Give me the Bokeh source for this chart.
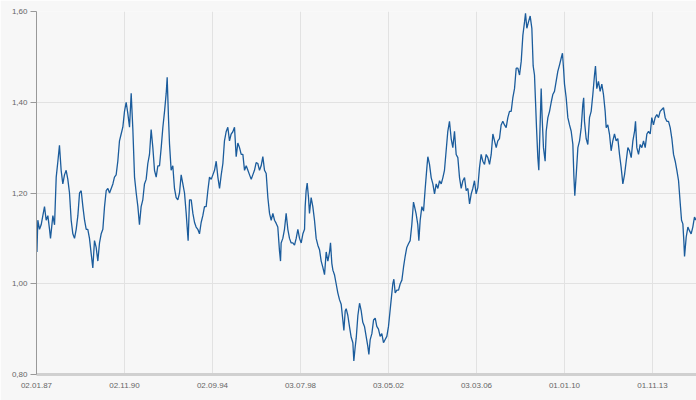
from bokeh.plotting import figure
from bokeh.models import FixedTicker, CustomJSTickFormatter, Range1d, ColumnDataSource
from bokeh.embed import file_html
from bokeh.resources import INLINE

# trading-day index (0 = 02.01.87) and rate
day = [0, 5, 15, 34, 53, 72, 91, 110, 129, 148, 159, 186, 205, 224, 243, 261, 280, 299, 318, 337,
       356, 375, 394, 413, 432, 451, 470, 489, 508, 527, 546, 565, 583, 602, 621, 640, 659, 678, 697, 716,
       735, 754, 773, 792, 811, 830, 849, 868, 886, 905, 924, 943, 962, 981, 1000, 1019, 1038, 1057, 1076, 1095,
       1114, 1133, 1152, 1170, 1189, 1208,
       1227, 1246, 1265, 1284, 1303, 1322, 1341, 1360, 1379, 1398, 1417, 1436, 1455, 1474, 1485, 1500, 1511, 1530,
       1549, 1568, 1587, 1606, 1625, 1644, 1663, 1682, 1701, 1712, 1723, 1739, 1758, 1777, 1796, 1814, 1833, 1852,
       1871, 1890, 1909, 1928, 1947, 1966, 1985, 2004, 2023, 2042, 2061, 2080, 2099, 2118, 2136, 2155, 2174, 2193,
       2212, 2231, 2250, 2269, 2288, 2307, 2326, 2345, 2364, 2383, 2402, 2421, 2440, 2458,
       2477, 2496, 2515, 2534, 2553, 2572, 2591, 2610, 2629, 2648, 2667, 2686, 2705, 2724, 2742, 2761, 2773, 2780,
       2799, 2818, 2837, 2856, 2875, 2894, 2913, 2932, 2951, 2970, 2989, 3008, 3027, 3046, 3053, 3064, 3076, 3091,
       3102, 3121, 3140, 3159, 3178, 3197, 3216, 3235, 3254, 3273, 3292, 3311, 3330, 3341, 3356, 3368, 3386, 3405,
       3424, 3443, 3462, 3481, 3493, 3508, 3519, 3538, 3557, 3576, 3595, 3606, 3621, 3633, 3652, 3671, 3690, 3708,
       3727, 3746, 3765, 3777, 3792, 3811, 3830, 3849, 3867, 3886, 3905, 3924, 3943, 3962, 3981, 4000, 4015, 4030,
       4049, 4061, 4076, 4095, 4114, 4133, 4152, 4171, 4189, 4208, 4227, 4246, 4265, 4284, 4296, 4314, 4333, 4345,
       4360, 4379, 4398, 4417, 4436, 4447, 4466, 4485, 4504, 4523, 4542, 4561, 4580, 4599, 4618, 4636, 4655, 4674,
       4693, 4712, 4731, 4750, 4769, 4788, 4807, 4826, 4845, 4864, 4883, 4902, 4921, 4940, 4958,
       4977, 4996, 5015, 5034, 5053, 5072, 5091, 5110, 5129, 5148, 5167, 5186, 5205, 5224, 5242, 5261, 5280, 5299,
       5318, 5337, 5356, 5375, 5394, 5413, 5432, 5451, 5470, 5489, 5508, 5527, 5546, 5557, 5572, 5591, 5610, 5629,
       5644, 5659, 5671, 5682, 5697, 5708, 5720, 5735, 5746, 5761, 5780, 5792, 5811, 5830, 5849, 5867, 5886, 5905,
       5924, 5943, 5962, 5977, 5989, 6000, 6019, 6038, 6057, 6076, 6095, 6106, 6117, 6133, 6152, 6171, 6190, 6208,
       6218,
       6227, 6246, 6265, 6284, 6303, 6322, 6341, 6352, 6367, 6386, 6405, 6424, 6443, 6462, 6474, 6492, 6511, 6530,
       6549, 6568, 6587, 6606, 6625, 6644, 6663, 6682, 6701, 6720, 6739, 6758, 6777, 6796, 6807, 6822, 6841, 6860,
       6879, 6898, 6917, 6936, 6955, 6974, 6992, 7011, 7030, 7049, 7068, 7087, 7106, 7125, 7144, 7163, 7182, 7201,
       7220, 7239, 7258, 7277, 7296, 7307, 7318, 7330, 7345, 7356, 7364, 7383, 7402, 7420, 7439, 7458, 7477, 7496]

rate = [1.12, 1.07, 1.14, 1.12, 1.13, 1.15, 1.17, 1.14, 1.15, 1.12, 1.10, 1.15, 1.13, 1.235, 1.27, 1.305, 1.25, 1.22, 1.24, 1.25,
        1.23, 1.20, 1.14, 1.11, 1.10, 1.12, 1.15, 1.20, 1.205, 1.17, 1.14, 1.12, 1.12, 1.10, 1.067, 1.035, 1.095, 1.08, 1.05, 1.09,
        1.11, 1.12, 1.17, 1.205, 1.21, 1.20, 1.21, 1.22, 1.235, 1.24, 1.27, 1.315, 1.33, 1.345, 1.38, 1.40, 1.375, 1.345, 1.42, 1.34,
        1.235, 1.20, 1.17, 1.13, 1.17, 1.185,
        1.22, 1.23, 1.265, 1.285, 1.34, 1.30, 1.25, 1.235, 1.26, 1.26, 1.30, 1.345, 1.38, 1.42, 1.455, 1.365, 1.31, 1.25,
        1.26, 1.21, 1.19, 1.185, 1.20, 1.24, 1.22, 1.20, 1.155, 1.125, 1.095, 1.185, 1.185, 1.155, 1.135, 1.125, 1.12, 1.11,
        1.135, 1.15, 1.17, 1.17, 1.205, 1.235, 1.23, 1.24, 1.25, 1.27, 1.235, 1.21, 1.24, 1.265, 1.315, 1.335, 1.345, 1.315,
        1.33, 1.335, 1.345, 1.28, 1.31, 1.30, 1.285, 1.285, 1.25, 1.26, 1.25, 1.24, 1.23, 1.24,
        1.25, 1.267, 1.265, 1.25, 1.26, 1.28, 1.25, 1.243, 1.19, 1.155, 1.14, 1.155, 1.14, 1.133, 1.125, 1.073, 1.05, 1.09,
        1.10, 1.12, 1.155, 1.12, 1.10, 1.09, 1.09, 1.085, 1.10, 1.12, 1.10, 1.09, 1.11, 1.12, 1.17, 1.205, 1.222, 1.19,
        1.155, 1.19, 1.17, 1.14, 1.10, 1.085, 1.075, 1.05, 1.036, 1.02, 1.07, 1.05, 1.07, 1.09, 1.045, 1.03, 1.02, 1.00,
        0.98, 0.965, 0.955, 0.92, 0.897, 0.94, 0.945, 0.93, 0.905, 0.882, 0.87, 0.83, 0.86, 0.88, 0.93, 0.957, 0.94, 0.915,
        0.906, 0.884, 0.862, 0.844, 0.877, 0.89, 0.92, 0.924, 0.906, 0.90, 0.884, 0.89, 0.87, 0.877, 0.884, 0.906, 0.935, 0.964,
        1.00, 1.01, 0.98, 0.986, 0.986, 1.00, 1.008, 1.037, 1.06, 1.08, 1.088, 1.095, 1.13, 1.18, 1.17, 1.154, 1.13, 1.095,
        1.14, 1.17, 1.16, 1.21, 1.256, 1.28, 1.263, 1.234, 1.22, 1.198, 1.22, 1.21, 1.227, 1.22, 1.234, 1.25, 1.293, 1.336,
        1.358, 1.32, 1.30, 1.336, 1.285, 1.278, 1.234, 1.21, 1.227, 1.234, 1.205, 1.21, 1.176, 1.198, 1.21,
        1.227, 1.198, 1.212, 1.256, 1.285, 1.27, 1.263, 1.285, 1.278, 1.263, 1.285, 1.33, 1.315, 1.30, 1.315, 1.32, 1.35, 1.358,
        1.35, 1.344, 1.366, 1.38, 1.38, 1.41, 1.43, 1.475, 1.475, 1.46, 1.49, 1.548, 1.577, 1.596, 1.563, 1.577, 1.59, 1.563,
        1.48, 1.46, 1.40, 1.344, 1.278, 1.25, 1.33, 1.43, 1.366, 1.30, 1.27, 1.336, 1.366, 1.38, 1.40, 1.417, 1.424, 1.446,
        1.468, 1.482, 1.497, 1.508, 1.475, 1.44, 1.41, 1.366, 1.35, 1.336, 1.307, 1.24, 1.194, 1.24, 1.30, 1.315, 1.344, 1.395,
        1.41,
        1.358, 1.32, 1.307, 1.366, 1.38, 1.417, 1.46, 1.48, 1.43, 1.446, 1.424, 1.44, 1.417, 1.38, 1.344, 1.35, 1.33, 1.293,
        1.315, 1.33, 1.315, 1.32, 1.285, 1.256, 1.22, 1.24, 1.27, 1.30, 1.293, 1.278, 1.315, 1.336, 1.358, 1.30, 1.285, 1.307,
        1.30, 1.315, 1.30, 1.33, 1.336, 1.33, 1.366, 1.35, 1.366, 1.373, 1.366, 1.38, 1.384, 1.388, 1.366, 1.358, 1.358, 1.344,
        1.32, 1.285, 1.27, 1.25, 1.227, 1.198, 1.17, 1.14, 1.132, 1.095, 1.06, 1.103, 1.125, 1.117, 1.11, 1.125, 1.147, 1.14]

x_ticks = [0, 1000, 2000, 3000, 4000, 5000, 6000, 7000]
x_tick_labels = ["02.01.87", "02.11.90", "02.09.94", "03.07.98", "03.05.02", "03.03.06", "01.01.10", "01.11.13"]
y_ticks = [0.8, 1.0, 1.2, 1.4, 1.6]

src = ColumnDataSource(dict(day=day, rate=rate))

p = figure(width=696, height=400, output_backend="svg", toolbar_location=None,
           x_range=Range1d(0, 7500), y_range=Range1d(0.8, 1.6),
           min_border_left=36, min_border_right=0, min_border_top=11, min_border_bottom=26)
p.background_fill_color = "#f7f7f7"
p.border_fill_color = "#f7f7f7"
p.outline_line_color = None

p.line("day", "rate", source=src, line_color="#1b5c9c", line_width=1.3)

grid_col = "#e2e2e2"
p.xgrid.grid_line_color = grid_col
p.ygrid.grid_line_color = grid_col

font = "Liberation Sans"
xa = p.xaxis[0]
xa.ticker = FixedTicker(ticks=x_ticks)
xa.formatter = CustomJSTickFormatter(args=dict(labels=x_tick_labels),
                                     code="var i = Math.round(tick/1000); return labels[i] || '';")
xa.axis_line_color = "#d0d0d0"
xa.axis_line_width = 3
xa.major_tick_line_color = None
xa.minor_tick_line_color = None
xa.major_label_text_font = font
xa.major_label_text_font_size = "8px"
xa.major_label_text_color = "#666666"
xa.major_label_standoff = 2

ya = p.yaxis[0]
ya.ticker = FixedTicker(ticks=y_ticks)
ya.formatter = CustomJSTickFormatter(code="return tick.toFixed(2).replace('.', ',');")
ya.axis_line_color = "#999999"
ya.major_tick_line_color = "#999999"
ya.major_tick_in = 0
ya.major_tick_out = 6
ya.minor_tick_line_color = None
ya.major_label_text_font = font
ya.major_label_text_font_size = "8px"
ya.major_label_text_color = "#666666"
ya.major_label_standoff = 3

open("out.html", "w").write(file_html(p, INLINE))
